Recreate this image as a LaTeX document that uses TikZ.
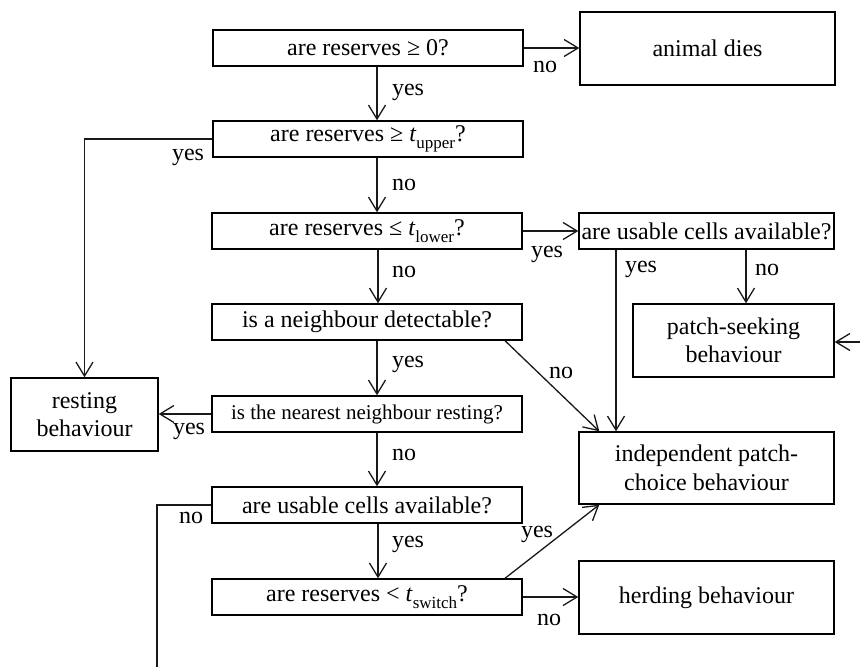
\documentclass[tikz,border=0pt]{standalone}
\usepackage{fontspec}
\setmainfont{Liberation Serif}
\usetikzlibrary{arrows.meta}
\newcommand{\sbs}[1]{\raisebox{-7pt}{\fontsize{17}{17}\selectfont #1}}
\begin{document}
\begin{tikzpicture}[x=1pt,y=-1pt,
  every node/.style={font=\fontsize{24}{28.5}\selectfont, text=black},
  box/.style={draw, line width=1.4pt, inner sep=0pt, align=center, minimum height=36pt, minimum width=310pt},
  bigbox/.style={draw, line width=1.4pt, inner sep=0pt, align=center, minimum height=73pt, minimum width=255pt},
  lbl/.style={anchor=base, inner sep=0pt},
  conn/.style={line width=1.3pt, black!90},
  arr/.style={conn, -{Straight Barb[length=14pt,width=17pt]}}]
\useasboundingbox (0,0) rectangle (860,667);
% decision boxes
\node[box] (b1) at (368,48) {are reserves ≥ 0?};
\node[box] (b2) at (368,139) {are reserves ≥ \textit{t}\sbs{upper}?};
\node[box] (b3) at (367,231) {are reserves ≤ \textit{t}\sbs{lower}?};
\node[box] (b4) at (367,322) {is a neighbour detectable?};
\node[box, font=\fontsize{21}{24}\selectfont] (b5) at (367,414) {is the nearest neighbour resting?};
\node[box] (b6) at (367,505) {are usable cells available?};
\node[box] (b7) at (367,597) {are reserves < \textit{t}\sbs{switch}?};
\node[box, minimum width=255pt] (u1) at (706.5,231) {are usable cells available?};
% outcome boxes
\node[bigbox] (dies) at (707.5,48.5) {animal dies};
\node[bigbox, minimum width=201pt] (ps) at (733.5,340.5) {patch-seeking\\behaviour};
\node[bigbox, minimum width=147pt] (rest) at (84.5,414.5) {resting\\behaviour};
\node[bigbox, minimum height=72pt] (ind) at (706.5,468) {independent patch-\\choice behaviour};
\node[bigbox] (herd) at (706.5,597.5) {herding behaviour};
% free ends and guide coordinates
\coordinate (psin) at (860,342);
\coordinate (down) at (157,667);
\coordinate (vx) at (377,0);
\coordinate (vy) at (378,0);
% connectors
\draw[arr] (b1.east) -- (dies.west |- b1.east);
\draw[arr] (b1.south -| vx) -- (b2.north -| vx);
\draw[arr] (b2.west) -| (rest.north);
\draw[arr] (b2.south -| vx) -- (b3.north -| vx);
\draw[arr] (b3.east) -- (u1.west);
\draw[arr] (u1.south -| 616,0) -- (ind.north -| 616,0);
\draw[arr] (u1.south -| 746,0) -- (ps.north -| 746,0);
\draw[arr] (psin) -- (ps.east |- psin);
\draw[arr] (b3.south -| vy) -- (b4.north -| vy);
\draw[arr] (b4.south -| 505,0) -- ([xshift=21pt]ind.north west);
\draw[arr] (b4.south -| vx) -- (b5.north -| vx);
\draw[arr] (b5.west) -- (rest.east |- b5.west);
\draw[arr] (b5.south -| vx) -- (b6.north -| vx);
\draw[conn] (b6.west) -| (down);
\draw[arr] (b6.south -| vy) -- (b7.north -| vy);
\draw[arr] (b7.north -| 505,0) -- ([xshift=21pt]ind.south west);
\draw[arr] (b7.east) -- (herd.west |- b7.east);
% labels
\node[lbl] (l1) at (545,72) {no};
\node[lbl] (l2) at (408,95) {yes};
\node[lbl] (l3) at (188,160) {yes};
\node[lbl] (l4) at (404,190) {no};
\node[lbl] (l5) at (547,257) {yes};
\node[lbl] (l6) at (641,272) {yes};
\node[lbl] (l7) at (767,275) {no};
\node[lbl] (l8) at (404,277) {no};
\node[lbl] (l9) at (561,378) {no};
\node[lbl] (l10) at (408,367) {yes};
\node[lbl] (l11) at (189,434) {yes};
\node[lbl] (l12) at (404,460) {no};
\node[lbl] (l13) at (191,523) {no};
\node[lbl] (l14) at (408,547) {yes};
\node[lbl] (l15) at (537,537) {yes};
\node[lbl] (l16) at (549,625) {no};
\end{tikzpicture}
\end{document}
